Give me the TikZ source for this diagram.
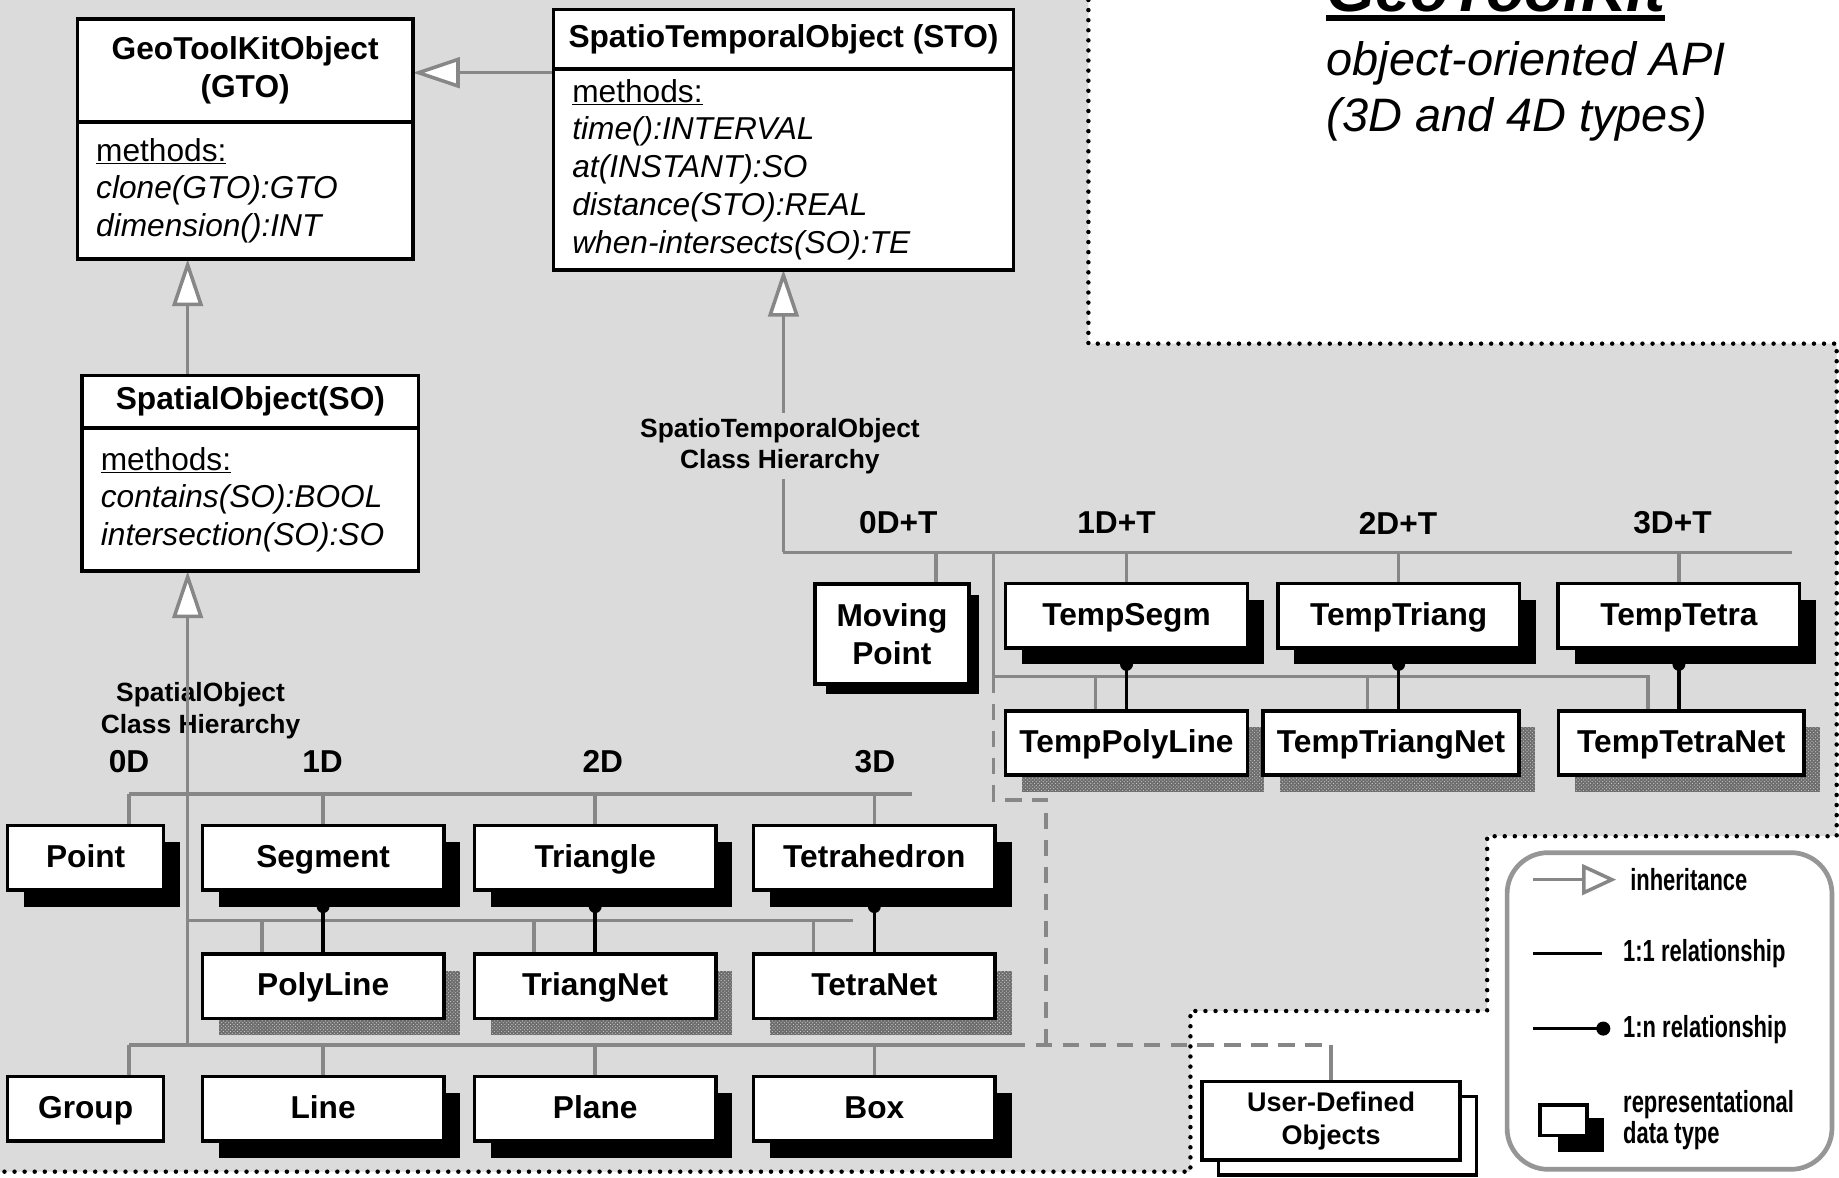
\documentclass[tikz,border=0pt]{standalone}
\usepackage{fontspec}
\setmainfont{Liberation Sans}
\newfontfamily\narrowsans[FakeStretch=0.72]{Liberation Sans}
\usetikzlibrary{shadows,patterns,arrows.meta}
\pgfdeclarelayer{background}
\pgfsetlayers{background,main}

\definecolor{panel}{RGB}{219,219,219}
\definecolor{wire}{RGB}{135,135,135}
\definecolor{frame}{RGB}{150,150,150}
\definecolor{stip}{RGB}{108,108,108}

\newcommand{\fs}[2]{\fontsize{#1}{#2}\selectfont}

\tikzset{
  every node/.style={inner sep=0pt, outer sep=0pt},
  umlhead/.style={draw, line width=3pt, fill=white, align=center,
    font=\fs{27}{32}\bfseries},
  umlbody/.style={draw, line width=3pt, fill=white, align=left,
    font=\fs{27}{32.2}\itshape, inner xsep=16pt},
  typebase/.style={draw, line width=3pt, fill=white, align=center,
    font=\fs{27}{32}\bfseries},
  typebox/.style={typebase, minimum height=55pt, text height=21pt, text depth=5pt},
  solidshade/.style={general shadow={fill=black, shadow xshift=14pt, shadow yshift=-14pt}},
  dotshade/.style={
    general shadow={fill=stip, shadow xshift=14pt, shadow yshift=-14pt},
    general shadow={pattern=crosshatch dots, pattern color=white!80!black, shadow xshift=14pt, shadow yshift=-14pt}},
  wireline/.style={draw=wire, line width=3pt},
  dashwire/.style={draw=wire, line width=3pt, dash pattern=on 14pt off 9pt},
  link/.style={draw=black, line width=3pt},
  isa/.style={wireline, -{Triangle[length=40pt, width=26pt, fill=white]}},
  isasmall/.style={wireline, -{Triangle[length=29pt, width=26pt, fill=white]}},
  dotborder/.style={draw=black, line width=3.8pt, dash pattern=on 0pt off 8.6pt, line cap=round},
  dimlabel/.style={font=\fs{27}{32}\bfseries},
  hierlabel/.style={font=\fs{22.5}{27}\bfseries, align=center},
  legendtext/.style={font=\fs{26}{27}\narrowsans\bfseries, anchor=west, align=left},
}

\begin{document}
\begin{tikzpicture}[x=1pt, y=-1pt]
\clip (0,0) rectangle (1568,1004);

% ---------- grey working area and its dotted outline ----------
\begin{pgfonlayer}{background}
\fill[white] (0,0) rectangle (1568,1004);
\fill[panel] (0,0) -- (928,0) -- (928,293) -- (1566,293) -- (1566,713) -- (1268,713)
  -- (1268,862) -- (1015,862) -- (1015,999) -- (0,999) -- cycle;
\draw[dotborder] (928,0) -- (928,293) -- (1566,293) -- (1566,713) -- (1268,713)
  -- (1268,862) -- (1015,862) -- (1015,999) -- (0,999);
\end{pgfonlayer}

% ---------- title ----------
\node[font=\fs{54}{60}\bfseries\itshape, anchor=base west] (title) at (1131,10) {GeoToolKit};
\fill ([yshift=-3pt]title.base west) rectangle ([yshift=-8pt]title.base east);
\node[font=\fs{40}{48}\itshape, anchor=base west] (sub1) at (1131,64) {object-oriented API};
\node[font=\fs{40}{48}\itshape, anchor=base west] (sub2) at (1131,112) {(3D and 4D types)};

% ---------- UML classes ----------
\node[umlhead, minimum width=286pt, minimum height=88pt] (gtoh) at (209,60) {GeoToolKitObject\\(GTO)};
\node[umlbody, text width=254pt, minimum height=117pt, anchor=north] (gtob) at (gtoh.south)
  {{\upshape\underline{methods:}}\\clone(GTO):GTO\\dimension():INT};

\node[umlhead, minimum width=392pt, minimum height=51pt] (stoh) at (668,33.5) {SpatioTemporalObject (STO)};
\node[umlbody, text width=360pt, minimum height=171pt, anchor=north] (stob) at (stoh.south)
  {{\upshape\underline{methods:}}\\time():INTERVAL\\at(INSTANT):SO\\distance(STO):REAL\\when-intersects(SO):TE};

\node[umlhead, minimum width=287pt, minimum height=45pt] (soh) at (213.5,342.5) {SpatialObject(SO)};
\node[umlbody, text width=255pt, minimum height=122pt, anchor=north] (sob) at (soh.south)
  {{\upshape\underline{methods:}}\\contains(SO):BOOL\\intersection(SO):SO};

% ---------- spatial types ----------
\node[typebox, solidshade, minimum width=133pt] (point) at (73,731.5) {Point};
\node[typebox, solidshade, minimum width=206pt] (segment) at (275.5,731.5) {Segment};
\node[typebox, solidshade, minimum width=206pt] (triangle) at (507.5,731.5) {Triangle};
\node[typebox, solidshade, minimum width=206pt] (tetra) at (745.5,731.5) {Tetrahedron};
\node[typebox, dotshade, minimum width=206pt] (polyline) at (275.5,841) {PolyLine};
\node[typebox, dotshade, minimum width=206pt] (triangnet) at (507.5,841) {TriangNet};
\node[typebox, dotshade, minimum width=206pt] (tetranet) at (745.5,841) {TetraNet};
\node[typebox, minimum width=133pt] (group) at (73,945.5) {Group};
\node[typebox, solidshade, minimum width=206pt] (line) at (275.5,945.5) {Line};
\node[typebox, solidshade, minimum width=206pt] (plane) at (507.5,945.5) {Plane};
\node[typebox, solidshade, minimum width=206pt] (box) at (745.5,945.5) {Box};

% ---------- spatio-temporal types ----------
\node[typebase, general shadow={fill=black, shadow xshift=9pt, shadow yshift=-9pt},
  minimum width=131pt, minimum height=85pt] (mpoint) at (760.5,540.5) {Moving\\Point};
\node[typebox, solidshade, minimum width=206pt] (tsegm) at (960.5,525) {TempSegm};
\node[typebox, solidshade, minimum width=206pt] (ttriang) at (1192.5,525) {TempTriang};
\node[typebox, solidshade, minimum width=206pt] (ttetra) at (1431.5,525) {TempTetra};
\node[typebox, dotshade, minimum width=206pt] (tpoly) at (960.5,633.5) {TempPolyLine};
\node[typebox, dotshade, minimum width=218pt] (ttrinet) at (1186,633.5) {TempTriangNet};
\node[typebox, dotshade, minimum width=209pt] (ttetnet) at (1433.5,633.5) {TempTetraNet};

% ---------- user-defined objects ----------
\node[typebase, font=\fs{23}{28}\bfseries, minimum width=220pt, minimum height=67pt,
  general shadow={draw=black, fill=white, line width=3pt, shadow xshift=14pt, shadow yshift=-13pt}]
  (udo) at (1135,955.5) {User-Defined\\Objects};

% ---------- hierarchy labels ----------
\begin{pgfonlayer}{background}
\node[hierlabel] (solabel) at (171,606) {SpatialObject\\Class Hierarchy};
\end{pgfonlayer}
\node[dimlabel] (d0) at (110,649) {0D};
\node[dimlabel] (d1) at (275,649) {1D};
\node[dimlabel] (d2) at (514,649) {2D};
\node[dimlabel] (d3) at (746,649) {3D};
\node[dimlabel] (t0) at (766,446) {0D+T};
\node[dimlabel] (t1) at (952,446) {1D+T};
\node[dimlabel] (t2) at (1192,446) {2D+T};
\node[dimlabel] (t3) at (1426,446) {3D+T};

% ---------- connectors ----------
\coordinate (bus1w) at (110,677);  \coordinate (bus1e) at (778,677);
\coordinate (bus2w) at (160,785);  \coordinate (bus2e) at (727,785);
\coordinate (bus3w) at (110,891);  \coordinate (bus3e) at (860,891);
\coordinate (trunk) at (160,891);
\coordinate (tbus1w) at (668,471); \coordinate (tbus1e) at (1528,471);
\coordinate (tbus2w) at (847,577); \coordinate (tbus2e) at (1405,577);
\coordinate (bendA) at (847,682);  \coordinate (bendB) at (892,682);
\coordinate (bendC) at (892,891);  \coordinate (udocorner) at (1135,891);

\begin{pgfonlayer}{background}
% inheritance
\draw[isa] ([yshift=-3pt]stob.north west) -- ([yshift=-3pt]stob.north west -| gtoh.east);
\draw[isa] (trunk |- soh.north) -- (trunk |- gtob.south);
\draw[isa] (trunk) -- (trunk |- sob.south);
\draw[isa] (tbus1w) -- (stob.south);
% spatial buses
\draw[wireline] (bus1w) -- (bus1e);
\draw[wireline] (bus1w) -- (bus1w |- point.north);
\draw[wireline] (segment.north |- bus1w) -- (segment.north);
\draw[wireline] (triangle.north |- bus1w) -- (triangle.north);
\draw[wireline] (tetra.north |- bus1w) -- (tetra.north);
\draw[wireline] (bus2w) -- (bus2e);
\draw[wireline] ([xshift=-52pt]polyline.north |- bus2w) -- ([xshift=-52pt]polyline.north);
\draw[wireline] ([xshift=-52pt]triangnet.north |- bus2w) -- ([xshift=-52pt]triangnet.north);
\draw[wireline] ([xshift=-52pt]tetranet.north |- bus2w) -- ([xshift=-52pt]tetranet.north);
\draw[wireline] (bus3w) -- (bus3e);
\draw[wireline] (bus3w) -- (bus3w |- group.north);
\draw[wireline] (line.north |- bus3w) -- (line.north);
\draw[wireline] (plane.north |- bus3w) -- (plane.north);
\draw[wireline] (box.north |- bus3w) -- (box.north);
% spatio-temporal buses
\draw[wireline] (tbus1w) -- (tbus1e);
\draw[wireline] ([xshift=37.5pt]mpoint.north |- tbus1w) -- ([xshift=37.5pt]mpoint.north);
\draw[wireline] (tsegm.north |- tbus1w) -- (tsegm.north);
\draw[wireline] (ttriang.north |- tbus1w) -- (ttriang.north);
\draw[wireline] (ttetra.north |- tbus1w) -- (ttetra.north);
\draw[wireline] (tbus2w |- tbus1w) -- (tbus2w) -- (tbus2e) -- (tbus2e |- ttetnet.north);
\draw[wireline] ([xshift=-26.5pt]tpoly.north |- tbus2w) -- ([xshift=-26.5pt]tpoly.north);
\draw[wireline] ([xshift=-20pt]ttrinet.north |- tbus2w) -- ([xshift=-20pt]ttrinet.north);
% extension towards user-defined objects
\draw[dashwire] (tbus2w) -- (bendA) -- (bendB) -- (bendC);
\draw[dashwire] (bus3e) -- (udocorner);
\draw[wireline] (udocorner) -- (udo.north);
\end{pgfonlayer}

\node[hierlabel, fill=panel, inner xsep=2pt, inner ysep=4pt] (stolabel) at (665,380.5)
  {SpatioTemporalObject\\Class Hierarchy};

% 1:n relationships
\foreach \a/\b in {segment/polyline, triangle/triangnet, tetra/tetranet,
                   tsegm/tpoly, ttriang/ttrinet, ttetra/ttetnet}{
  \draw[link] (\a.south) -- (\a.south |- \b.north);
  \fill ([yshift=-14pt]\a.south) circle (5.5pt);
}

% ---------- legend ----------
\node[draw=frame, line width=4pt, rounded corners=35pt, minimum width=277pt, minimum height=270pt]
  (legend) at (1423.5,862) {};
\coordinate (lgA) at (1307,750); \coordinate (lgA2) at (1378,750);
\coordinate (lgB) at (1307,813); \coordinate (lgB2) at (1366,813);
\coordinate (lgC) at (1307,877); \coordinate (lgC2) at (1367,877);
\draw[isasmall] (lgA) -- (lgA2);
\draw[link] (lgB) -- (lgB2);
\draw[link] (lgC) -- (lgC2);
\fill (lgC2) circle (6pt);
\fill (1328,953) rectangle (1368,982);
\draw[line width=3pt, fill=white] (1313,942) rectangle (1353,968);
\node[legendtext] (lt1) at (1390,750) {inheritance};
\node[legendtext] (lt2) at (1384,813) {1:1 relationship};
\node[legendtext] (lt3) at (1384,878) {1:n relationship};
\node[legendtext] (lt4) at (1384,955) {representational\\data type};
\end{tikzpicture}
\end{document}
